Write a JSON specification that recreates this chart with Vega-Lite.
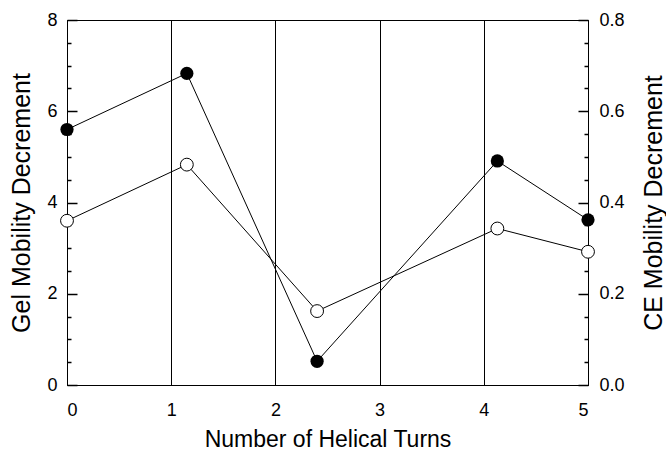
{
  "$schema": "https://vega.github.io/schema/vega-lite/v6.json",
  "width": 521,
  "height": 365,
  "autosize": {"type": "none"},
  "padding": {"left": 67, "top": 20, "right": 78, "bottom": 66},
  "background": "white",
  "config": {
    "font": "Liberation Sans",
    "view": {"stroke": "black", "strokeWidth": 1},
    "axis": {
      "domainColor": "black",
      "domainWidth": 1,
      "labelColor": "black",
      "titleColor": "black",
      "labelFont": "Liberation Sans",
      "titleFont": "Liberation Sans",
      "titleFontWeight": "normal",
      "labelFontSize": 18,
      "titleFontSize": 23,
      "grid": false
    }
  },
  "data": {
    "values": [
      {"turns": 0, "gel": 5.6, "ce": 0.36},
      {"turns": 1.15, "gel": 6.83, "ce": 0.483},
      {"turns": 2.4, "gel": 0.52, "ce": 0.162},
      {"turns": 4.13, "gel": 4.91, "ce": 0.343},
      {"turns": 5, "gel": 3.62, "ce": 0.292}
    ]
  },
  "encoding": {
    "x": {
      "field": "turns",
      "type": "quantitative",
      "scale": {"domain": [0, 5], "nice": false},
      "axis": {
        "values": [0, 1, 2, 3, 4, 5],
        "format": "d",
        "ticks": false,
        "grid": true,
        "gridColor": "black",
        "gridOpacity": 1,
        "gridWidth": 1,
        "labelPadding": 16,
        "title": "Number of Helical Turns",
        "titlePadding": 9
      }
    }
  },
  "layer": [
    {
      "mark": {"type": "line", "color": "black", "strokeWidth": 1},
      "encoding": {
        "y": {
          "field": "gel",
          "type": "quantitative",
          "scale": {"domain": [0, 8], "nice": false},
          "axis": {
            "orient": "left",
            "values": [0.5, 1, 1.5, 2.5, 3, 3.5, 4.5, 5, 5.5, 6.5, 7, 7.5],
            "tickSize": -4,
            "tickColor": "#000000",
            "tickWidth": 1.5,
            "labels": false,
            "domain": false,
            "title": null
          }
        }
      }
    },
    {
      "mark": {"type": "point", "filled": true, "opacity": 0},
      "encoding": {
        "y": {
          "field": "gel",
          "type": "quantitative",
          "scale": {"domain": [0, 8], "nice": false},
          "axis": {
            "orient": "left",
            "values": [0, 2, 4, 6, 8],
            "format": "d",
            "ticks": false,
            "labelPadding": 10,
            "title": "Gel Mobility Decrement",
            "titleFontSize": 25,
            "titlePadding": 12
          }
        }
      }
    },
    {
      "mark": {"type": "line", "color": "black", "strokeWidth": 1},
      "encoding": {
        "y": {
          "field": "ce",
          "type": "quantitative",
          "scale": {"domain": [0, 0.8], "nice": false},
          "axis": {
            "orient": "right",
            "values": [0.05, 0.1, 0.15, 0.25, 0.3, 0.35, 0.45, 0.5, 0.55, 0.65, 0.7, 0.75],
            "tickSize": -4,
            "tickColor": "#000000",
            "tickWidth": 1.5,
            "labels": false,
            "domain": false,
            "title": null
          }
        }
      }
    },
    {
      "mark": {"type": "point", "filled": true, "opacity": 0},
      "encoding": {
        "y": {
          "field": "ce",
          "type": "quantitative",
          "scale": {"domain": [0, 0.8], "nice": false},
          "axis": {
            "orient": "right",
            "values": [0, 0.2, 0.4, 0.6, 0.8],
            "format": ".1f",
            "ticks": false,
            "labelPadding": 11,
            "title": "CE Mobility Decrement",
            "titleFontSize": 25,
            "titleAngle": 270,
            "titleBaseline": "top",
            "titlePadding": 17
          }
        }
      }
    },
    {
      "mark": {"type": "point", "filled": true, "color": "black", "size": 175, "opacity": 1},
      "encoding": {
        "y": {
          "field": "gel",
          "type": "quantitative",
          "scale": {"domain": [0, 8], "nice": false},
          "axis": {
            "orient": "left",
            "values": [0, 2, 4, 6, 8],
            "tickSize": -10,
            "tickColor": "#000000",
            "tickWidth": 1.5,
            "labels": false,
            "domain": false,
            "title": null
          }
        }
      }
    },
    {
      "mark": {"type": "point", "filled": true, "fill": "white", "stroke": "black", "strokeWidth": 1, "size": 165, "opacity": 1},
      "encoding": {
        "y": {
          "field": "ce",
          "type": "quantitative",
          "scale": {"domain": [0, 0.8], "nice": false},
          "axis": {
            "orient": "right",
            "values": [0, 0.2, 0.4, 0.6, 0.8],
            "tickSize": -10,
            "tickColor": "#000000",
            "tickWidth": 1.5,
            "labels": false,
            "domain": false,
            "title": null
          }
        }
      }
    }
  ],
  "resolve": {"scale": {"y": "independent"}}
}
